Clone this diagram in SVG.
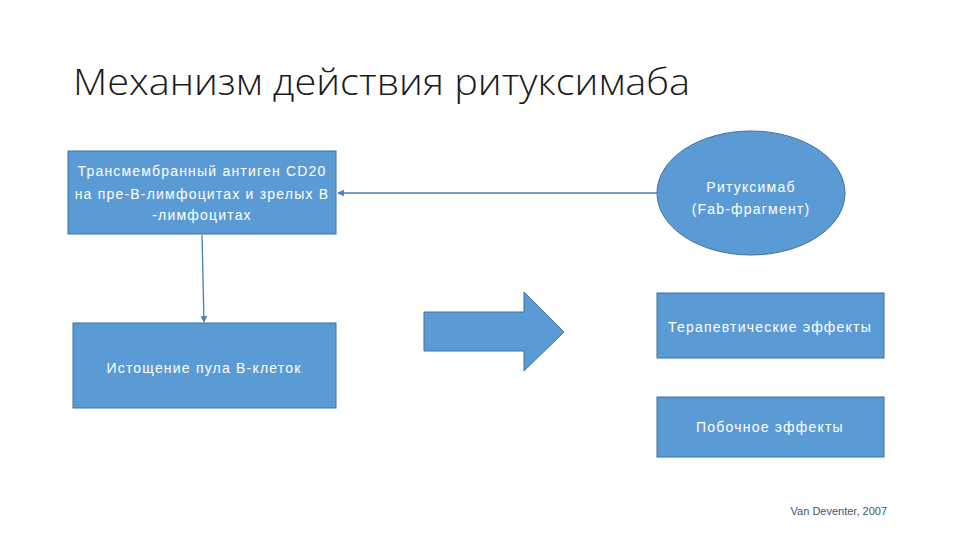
<svg xmlns="http://www.w3.org/2000/svg" width="960" height="540" viewBox="0 0 960 540">
<defs>
<style>
.node{fill:#5b9bd5;stroke:#41719c;stroke-width:1}
.lbl{font-family:"Liberation Sans","Open Sans",sans-serif;font-size:14px;letter-spacing:1.2px;fill:#ffffff;text-anchor:middle}
.conn{stroke:#4a7ebb;stroke-width:1.3;fill:none}
</style>
<marker id="ah" viewBox="0 0 10 10" refX="9" refY="5" markerWidth="5" markerHeight="5" orient="auto" markerUnits="strokeWidth">
<path d="M0,0 L10,5 L0,10 z" fill="#4a7ebb"/>
</marker>
</defs>
<rect width="960" height="540" fill="#ffffff"/>
<text x="73" y="95" font-family="'Open Sans','Liberation Sans',sans-serif" font-weight="300" font-size="37" fill="#1a1a1a" textLength="617" lengthAdjust="spacingAndGlyphs">Механизм действия ритуксимаба</text>
<g id="connectors">
<line class="conn" x1="657" y1="193" x2="338" y2="193" marker-end="url(#ah)"/>
<line class="conn" x1="202" y1="235" x2="204" y2="322" marker-end="url(#ah)"/>
</g>
<g id="cd20">
<rect class="node" x="68" y="151" width="268" height="83"/>
<text class="lbl" x="202" y="176">Трансмембранный антиген CD20</text>
<text class="lbl" x="202" y="199">на пре-B-лимфоцитах и зрелых B</text>
<text class="lbl" x="202" y="220">-лимфоцитах</text>
</g>
<g id="rituximab">
<ellipse class="node" cx="751" cy="193" rx="94" ry="62"/>
<text class="lbl" x="751" y="192">Ритуксимаб</text>
<text class="lbl" x="751" y="214">(Fab-фрагмент)</text>
</g>
<g id="depletion">
<rect class="node" x="73" y="323" width="263" height="85"/>
<text class="lbl" x="204" y="373">Истощение пула B-клеток</text>
</g>
<g id="bigarrow">
<path class="node" d="M424,312 L524,312 L524,292 L564,332 L524,371 L524,351 L424,351 Z"/>
</g>
<g id="therapeutic">
<rect class="node" x="657" y="293" width="227" height="65"/>
<text class="lbl" x="770" y="332">Терапевтические эффекты</text>
</g>
<g id="side">
<rect class="node" x="657" y="397" width="227" height="60"/>
<text class="lbl" x="770" y="432">Побочное эффекты</text>
</g>
<text x="887" y="515" font-family="'Liberation Sans',sans-serif" font-size="11" fill="#44546a" text-anchor="end">Van Deventer, 2007</text>
</svg>
